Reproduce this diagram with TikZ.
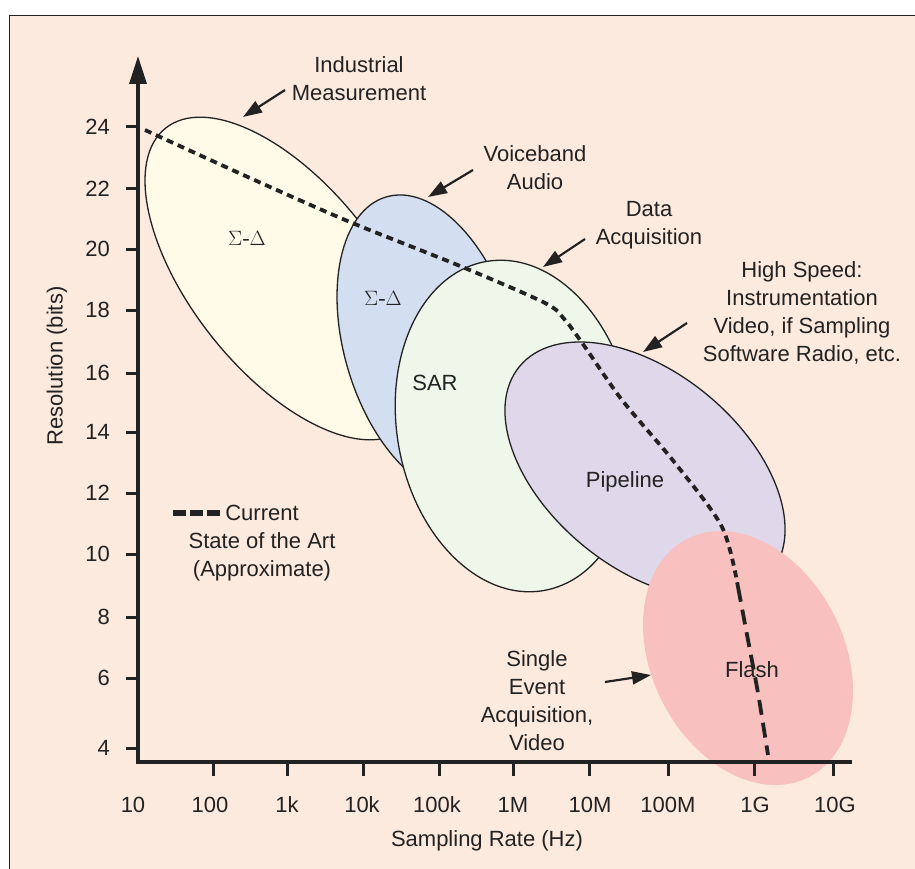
\documentclass[tikz,border=0pt]{standalone}
\usepackage{fontspec}
\setmainfont{Liberation Sans}
\newfontfamily\grfont{Liberation Serif}
\usetikzlibrary{arrows.meta}
\definecolor{peach}{HTML}{FDEADF}
\definecolor{cyellow}{HTML}{FFFBE8}
\definecolor{cblue}{HTML}{D3DFF0}
\definecolor{cgreen}{HTML}{EFF7EA}
\definecolor{clav}{HTML}{DFD8EB}
\definecolor{cpink}{HTML}{F8C1C0}
\definecolor{ink}{HTML}{222222}
\tikzset{
  region/.style={draw=ink, line width=1.3pt},
  axisline/.style={draw=ink, line width=3.5pt},
  tickline/.style={draw=ink, line width=3pt},
  lbl/.style={align=center, inner sep=0pt, text=ink},
  ptr/.style={draw=ink, line width=2.2pt, -{Triangle[length=19pt,width=13pt]}},
  soa/.style={draw=ink, line width=3.8pt},
}
\begin{document}
\begin{tikzpicture}[x=1pt,y=1pt,font=\fontsize{22}{28}\selectfont]
\useasboundingbox (0,0) rectangle (915,-869);
\fill[white] (0,0) rectangle (915,-869);
\fill[peach] (9.5,-15.5) rectangle (915,-869);
\draw[line width=1.5pt, ink] (915,-15.5) -- (9.5,-15.5) -- (9.5,-869);

% regions
\draw[region, fill=cyellow, rotate around={-51.6:(285,-278.5)}] (285,-278.5) ellipse [x radius=192, y radius=93.5];
\draw[region, fill=cblue, rotate around={-73.5:(430,-345)}] (430,-345) ellipse [x radius=154.4, y radius=85.5];
\draw[region, fill=cgreen, rotate around={-80:(515,-426)}] (515,-426) ellipse [x radius=167, y radius=118];
\draw[region, fill=clav, rotate around={-39.5:(645,-470)}] (645,-470) ellipse [x radius=162.7, y radius=97.6];
\fill[cpink, rotate around={-63.1:(748,-658)}] (748,-658) ellipse [x radius=133.8, y radius=96.2];

% region labels
\node[lbl] (sd1) at (247,-238) {\grfont $\Sigma$-$\Delta$};
\node[lbl] (sd2) at (383,-298) {\grfont $\Sigma$-$\Delta$};
\node[lbl] (sar) at (435,-383) {SAR};
\node[lbl] (pipe) at (625,-482) {Pipeline};
\node[lbl] (flash) at (752,-670) {Flash};

% state of the art curve
\draw[soa, dash pattern=on 7pt off 5pt] plot[smooth, tension=0.5] coordinates {
 (145,-130) (250,-178) (350,-222) (460,-266) (545,-303) (565,-320)
 (585,-347) (622,-400) (675,-463) (722,-527) (738,-587)};
\draw[soa, dash pattern=on 15pt off 8pt] plot[smooth, tension=0.5] coordinates {
 (738,-587) (748,-640) (758,-693) (768,-755)};

% axes
\node[inner sep=0pt] (orig) at (138,-762) {};
\coordinate (ytop) at (138,-56);
\coordinate (xend) at (852,-762);
\draw[axisline, -{Triangle[length=28pt,width=17pt]}] (138,-763.7) -- (ytop);
\draw[axisline] (136.3,-762) -- (xend);

% y ticks
\foreach \v/\yy in {24/127,22/189,20/249,18/310,16/373,14/432,12/493,10/554,8/617,6/678,4/748}{
  \draw[tickline] (126,-\yy) -- (138,-\yy);
  \node[lbl, anchor=east] at (110,-\yy) {\v};
}
% x ticks
\foreach \xx in {213,287,363,439,513,589,668,754,833}{
  \draw[tickline] (\xx,-762) -- (\xx,-776);
}
\foreach \t/\xx in {10/133,100/210,1k/287,10k/362,100k/437,1M/513,10M/590,100M/668,1G/755,10G/835}{
  \node[lbl] at (\xx,-805) {\t};
}
\node[lbl] (xlab) at (487,-841) {Sampling Rate (Hz)};
\node[lbl, rotate=90] (ylab) at (57,-366) {Resolution (bits)};

% legend
\coordinate (lg1) at (173,-513);
\coordinate (lg2) at (220,-513);
\draw[draw=ink, line width=6.5pt, dash pattern=on 13pt off 4pt] (lg1) -- (lg2);
\node[lbl] (legend) at (262,-543) {Current\\State of the Art\\(Approximate)};

% annotation labels
\node[lbl] (ind) at (359,-79) {Industrial\\Measurement};
\coordinate (indA) at (285,-90);
\coordinate (indB) at (243,-117);
\draw[ptr] (indA) -- (indB);

\node[lbl] (voice) at (535,-168) {Voiceband\\Audio};
\coordinate (voA) at (473,-170);
\coordinate (voB) at (428,-197);
\draw[ptr] (voA) -- (voB);

\node[lbl] (daq) at (649,-225) {Data\\Acquisition};
\coordinate (daA) at (585,-239);
\coordinate (daB) at (543,-267);
\draw[ptr] (daA) -- (daB);

\node[lbl] (hs) at (802,-313) {High Speed:\\Instrumentation\\Video, if Sampling\\Software Radio, etc.};
\coordinate (hsA) at (687,-323);
\coordinate (hsB) at (643,-352);
\draw[ptr] (hsA) -- (hsB);

\node[lbl] (single) at (537,-701) {Single\\Event\\Acquisition,\\Video};
\coordinate (sgA) at (605,-682);
\coordinate (sgB) at (651,-675);
\draw[ptr] (sgA) -- (sgB);
\end{tikzpicture}
\end{document}
